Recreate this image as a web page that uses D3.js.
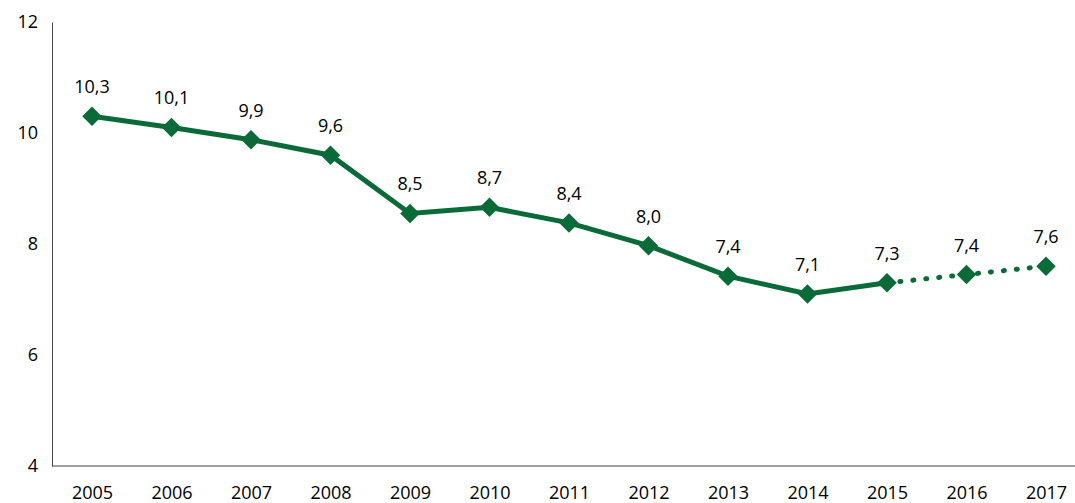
<!DOCTYPE html>
<html><head><meta charset="utf-8">
<script src="https://cdn.jsdelivr.net/npm/d3@7"></script>
<style>body{margin:0;background:#fff}text{font-family:"Open Sans",sans-serif}</style>
</head><body><svg id="c" width="1075" height="503"></svg>
<script>
const years = ["2005","2006","2007","2008","2009","2010","2011","2012","2013","2014","2015","2016","2017"];
const values = [10.3,10.1,9.88,9.6,8.55,8.66,8.38,7.97,7.42,7.1,7.3,7.45,7.6];
const labels = ["10,3","10,1","9,9","9,6","8,5","8,7","8,4","8,0","7,4","7,1","7,3","7,4","7,6"];
const yTicks = [4,6,8,10,12];
const lastActual = 10; // index of 2015

const svg = d3.select("#c");
const color = "#0b6b38";
const x = d3.scalePoint().domain(years).range([92,1046]);
const y = d3.scaleLinear().domain([4,12]).range([466,22]);

svg.append("g").attr("transform","translate(52,0)")
  .call(d3.axisLeft(y).tickValues(yTicks).tickSize(0).tickPadding(14))
  .call(g=>{g.selectAll("text").style("font-size","18px").attr("fill","#000");g.select("path").attr("stroke","#444");});
svg.append("g").attr("transform","translate(0,466)")
  .call(d3.axisBottom(x).tickSize(0).tickPadding(20))
  .call(g=>{g.select("path").attr("d","M52,0H1075").attr("stroke","#444");g.selectAll("text").style("font-size","18px").attr("fill","#000");});

const pts = years.map((yr,i)=>({yr,v:values[i],l:labels[i],i}));
const line = d3.line().x(d=>x(d.yr)).y(d=>y(d.v));
svg.append("path").attr("d",line(pts.slice(0,lastActual+1))).attr("fill","none").attr("stroke",color).attr("stroke-width",5);
svg.append("path").attr("d",line(pts.slice(lastActual))).attr("fill","none").attr("stroke",color).attr("stroke-width",5).attr("stroke-dasharray","1,12").attr("stroke-linecap","round");
svg.selectAll(".m").data(pts).join("path").attr("d",d3.symbol(d3.symbolSquare,190)())
  .attr("transform",d=>`translate(${x(d.yr)},${y(d.v)}) rotate(45)`).attr("fill",color);
svg.selectAll(".l").data(pts).join("text").attr("x",d=>x(d.yr)).attr("y",d=>y(d.v)-23)
  .attr("text-anchor","middle").style("font-size","18px").text(d=>d.l);
</script></body></html>
